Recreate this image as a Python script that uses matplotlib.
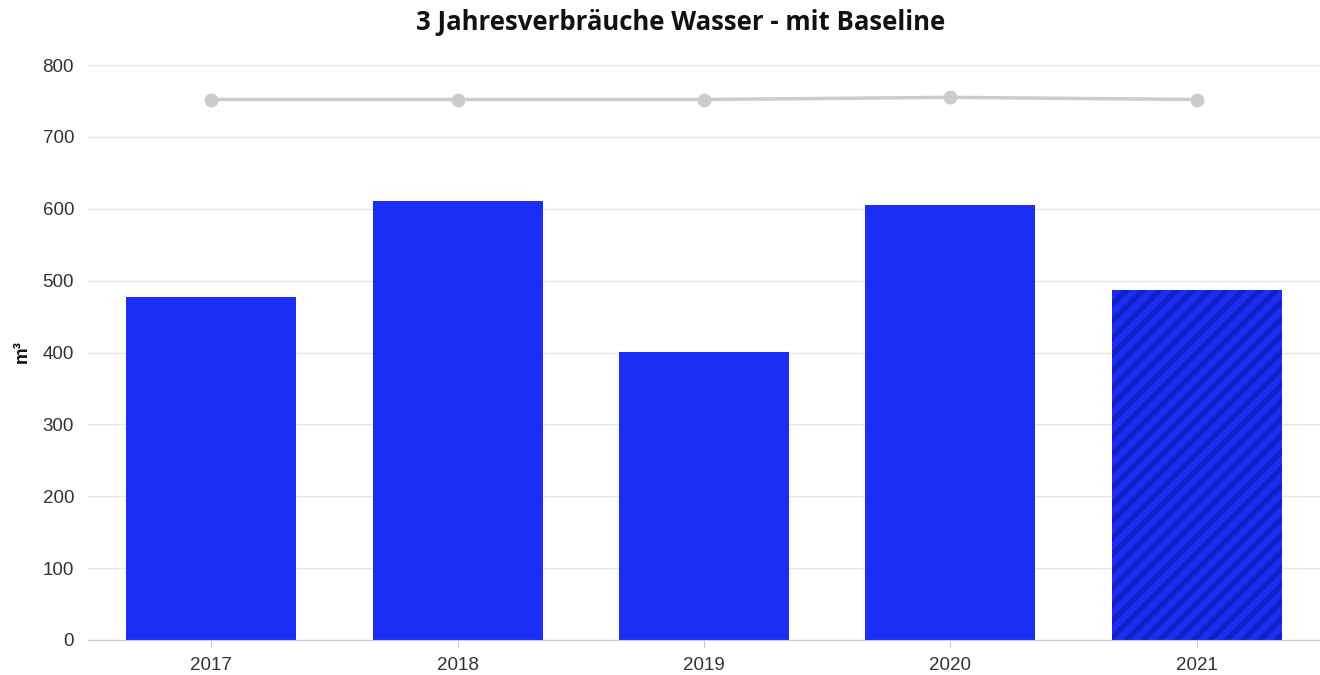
import matplotlib.pyplot as plt
import numpy as np

# Data
years = ['2017', '2018', '2019', '2020', '2021']
consumption = [477, 611, 401, 605, 487]
baseline = [752, 752, 752, 755, 752]

bar_color = '#1c2ef5'
hatch_color = '#1221c4'
grid_color = '#e6e6e6'

plt.rcParams['font.family'] = ['Liberation Sans', 'DejaVu Sans']
plt.rcParams['hatch.linewidth'] = 4.0

fig = plt.figure(figsize=(13.2, 6.75), dpi=100)
ax = fig.add_axes([88 / 1320, 1 - 640 / 675, 1 - 88 / 1320, (640 - 65) / 675])

x = np.arange(len(years))
ax.bar(x[:-1], consumption[:-1], width=0.69, color=bar_color, zorder=2)
# last year is partly estimated -> hatched bar
ax.bar(x[-1], consumption[-1], width=0.69, color=bar_color, edgecolor=hatch_color,
       hatch='//', linewidth=0, zorder=2)

ax.plot(x, baseline, color='#cccccc', linewidth=2.5, marker='o', markersize=9, zorder=3)

ax.set_xlim(-0.5, len(years) - 0.5)
ax.set_ylim(0, 800)
ax.set_yticks(range(0, 801, 100))
ax.set_xticks(x)
ax.set_xticklabels(years)
ax.tick_params(axis='y', length=0, labelsize=13.5, colors='#333333', pad=10)
ax.tick_params(axis='x', length=6, color='#cccccc', labelsize=13.5, labelcolor='#333333', pad=6)
ax.yaxis.grid(True, color=grid_color, linewidth=1)
ax.set_axisbelow(True)
for side in ['top', 'right', 'left']:
    ax.spines[side].set_visible(False)
ax.spines['bottom'].set_color('#cccccc')

fig.text(22 / 1320, 1 - 352 / 675, 'm³', rotation=90, ha='center', va='center',
         fontsize=13.5, fontweight='bold', color='#111111')

fig.text(681 / 1320, 1 - 22 / 675, '3 Jahresverbräuche Wasser - mit Baseline',
         ha='center', va='center', fontsize=18.5, fontweight='bold',
         family=['Open Sans', 'DejaVu Sans'], color='#111111')

fig.savefig('out.png', dpi=100)
